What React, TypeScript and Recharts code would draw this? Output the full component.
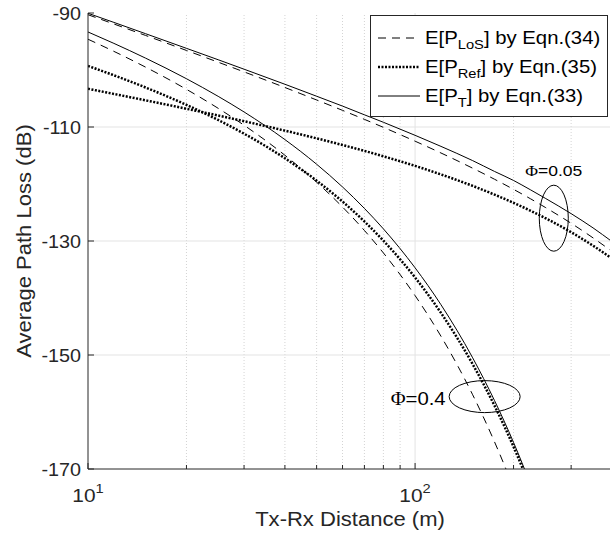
import React from 'react';
import { LineChart, Line, XAxis, YAxis, ReferenceLine, ReferenceDot, Legend } from 'recharts';

// Tx-Rx distance (m) and average path loss (dB)
const distances = [10, 12, 15, 20, 25, 30, 40, 50, 60, 70, 80, 100, 120, 150, 175, 200, 225, 250, 300, 350, 400];

// Phi = 0.05
const los005 = [-90.3, -91.93, -93.94, -96.57, -98.63, -100.33, -103.07, -105.26, -107.08, -108.66, -110.06, -112.49, -114.56, -117.23, -119.17, -120.94, -122.57, -124.1, -126.89, -129.45, -131.82];
const ref005 = [-103.29, -104.2, -105.32, -106.8, -107.99, -108.99, -110.64, -111.99, -113.16, -114.19, -115.14, -116.82, -118.32, -120.33, -121.87, -123.3, -124.67, -125.97, -128.46, -130.82, -133.08];
const tot005 = [-90.05, -91.65, -93.63, -96.2, -98.2, -99.86, -102.5, -104.6, -106.33, -107.86, -109.17, -111.46, -113.4, -115.9, -117.8, -119.38, -121.0, -122.5, -125.2, -127.7, -130.1];

// Phi = 0.4
const los04 = [-94.6, -96.73, -99.5, -103.39, -106.72, -109.69, -114.96, -119.68, -124.04, -128.15, -132.09, -139.58, -146.71, -156.98, -165.26, -173.36, -181.32, null, null, null, null];
const ref04 = [-99.29, -100.93, -103.07, -106.12, -108.77, -111.17, -115.49, -119.41, -123.08, -126.57, -129.94, -136.4, -142.61, -151.61, -158.91, -166.09, -173.17, null, null, null, null];
const tot04 = [-93.33, -95.33, -97.92, -101.53, -104.62, -107.36, -112.21, -116.53, -120.52, -124.28, -127.87, -134.7, -141.18, -150.5, -158.01, -165.34, -172.55, null, null, null, null];

const xTicks = [10, 20, 30, 40, 50, 60, 70, 80, 90, 100, 200, 300, 400];
const xMajor = [10, 100];
const xMinor = [20, 30, 40, 50, 60, 70, 80, 90, 200, 300];
const yTicks = [-170, -150, -130, -110, -90];

const legendItems = [
  { sub: 'LoS', eqn: '(34)', dash: '8 6', width: 1 },
  { sub: 'Ref', eqn: '(35)', dash: '2 1.5', width: 2.5 },
  { sub: 'T', eqn: '(33)', dash: undefined, width: 1 },
];

const data = distances.map((d, i) => ({
  d,
  los005: los005[i],
  ref005: ref005[i],
  tot005: tot005[i],
  los04: los04[i],
  ref04: ref04[i],
  tot04: tot04[i],
}));

const AXIS = '#262626';
const FONT = '"Liberation Sans", Arial, sans-serif';
const SX = 1.13;

const BottomTick = (props: any) => {
  const { x, y, payload } = props;
  const v = payload.value;
  const major = xMajor.includes(v);
  return (
    <g>
      <line x1={x} x2={x} y1={y} y2={y - (major ? 6 : 4)} stroke={AXIS} />
      {major && (
        <text transform={`translate(${x},${y + 33}) scale(${SX},1)`} textAnchor="middle" fontSize={18.5} fontFamily={FONT} fill={AXIS}>
          10<tspan dy={-9} fontSize={13}>{Math.round(Math.log10(v))}</tspan>
        </text>
      )}
    </g>
  );
};

const TopTick = (props: any) => {
  const { x, y, payload } = props;
  const major = xMajor.includes(payload.value);
  return <line x1={x} x2={x} y1={y} y2={y + (major ? 6 : 4)} stroke={AXIS} />;
};

const LeftTick = (props: any) => {
  const { x, y, payload } = props;
  return (
    <g>
      <line x1={x} x2={x + 6} y1={y} y2={y} stroke={AXIS} />
      <text transform={`translate(${x - 7},${y + 6.5}) scale(${SX},1)`} textAnchor="end" fontSize={17.5} fontFamily={FONT} fill={AXIS}>
        {payload.value}
      </text>
    </g>
  );
};

const RightTick = (props: any) => {
  const { x, y } = props;
  return <line x1={x} x2={x - 6} y1={y} y2={y} stroke={AXIS} />;
};

const XTitle = (props: any) => {
  const { x, y, width } = props.viewBox;
  return (
    <text transform={`translate(${x + width / 2},${y + 57}) scale(${SX},1)`} textAnchor="middle" fontSize={19.5} fontFamily={FONT} fill={AXIS}>
      Tx-Rx Distance (m)
    </text>
  );
};

const YTitle = (props: any) => {
  const { y, height } = props.viewBox;
  return (
    <text transform={`translate(31,${y + height / 2}) rotate(-90) scale(${SX},1)`} textAnchor="middle" fontSize={19.5} fontFamily={FONT} fill={AXIS}>
      Average Path Loss (dB)
    </text>
  );
};

const renderLegend = () => (
  <svg width={238} height={102} style={{ display: 'block' }}>
    <rect x={0.5} y={0.5} width={237} height={101} fill="#fff" stroke={AXIS} />
    {legendItems.map((it, i) => {
      const cy = 23 + i * 29;
      return (
        <g key={it.sub}>
          <line x1={8} x2={50} y1={cy} y2={cy} stroke="#000" strokeWidth={it.width} strokeDasharray={it.dash} />
          <text transform={`translate(55,${cy + 6}) scale(${SX},1)`} fontSize={18} fontFamily={FONT} fill="#000">
            E[P<tspan dy={5} fontSize={13}>{it.sub}</tspan>
            <tspan dy={-5}>] by Eqn.{it.eqn}</tspan>
          </text>
        </g>
      );
    })}
  </svg>
);

const EllipseNote = (rx: number, ry: number, label: string, size: number, dx: number, dy: number, anchor: string) => (p: any) => (
  <g>
    <ellipse cx={p.cx} cy={p.cy} rx={rx} ry={ry} fill="none" stroke="#000" strokeWidth={1} />
    <text transform={`translate(${p.cx + dx},${p.cy + dy}) scale(${SX},1)`} textAnchor={anchor} fontSize={size} fontFamily={FONT} fill="#000">
      <tspan fontFamily='"Liberation Serif", "Times New Roman", serif'>Φ</tspan>
      {label}
    </text>
  </g>
);

const App: React.FC = () => {
  return (
    <div style={{ width: 610, height: 533, overflow: 'hidden', position: 'relative', background: '#fff' }}>
      <style>{'body{margin:0;overflow:hidden;}'}</style>
      <LineChart width={614} height={533} data={data} margin={{ top: 13, right: 2, bottom: 0, left: 0 }}>
        <XAxis
          xAxisId="b"
          dataKey="d"
          type="number"
          scale="log"
          domain={[10, 400]}
          ticks={xTicks}
          interval={0}
          allowDataOverflow
          height={64}
          tickSize={0}
          tickMargin={0}
          tickLine={false}
          tick={<BottomTick />}
          axisLine={{ stroke: AXIS }}
          label={<XTitle />}
        />
        <XAxis
          xAxisId="t"
          orientation="top"
          dataKey="d"
          type="number"
          scale="log"
          domain={[10, 400]}
          ticks={xTicks}
          interval={0}
          allowDataOverflow
          height={0}
          tickSize={0}
          tickMargin={0}
          tickLine={false}
          tick={<TopTick />}
          axisLine={{ stroke: AXIS }}
        />
        <YAxis
          yAxisId="l"
          type="number"
          domain={[-170, -90]}
          ticks={yTicks}
          interval={0}
          allowDataOverflow
          width={88}
          tickSize={0}
          tickMargin={0}
          tickLine={false}
          tick={<LeftTick />}
          axisLine={{ stroke: AXIS }}
          label={<YTitle />}
        />
        <YAxis
          yAxisId="r"
          orientation="right"
          type="number"
          domain={[-170, -90]}
          ticks={yTicks}
          interval={0}
          allowDataOverflow
          width={0}
          tickSize={0}
          tickMargin={0}
          tickLine={false}
          tick={<RightTick />}
          axisLine={{ stroke: AXIS }}
        />

        {xMinor.map((v) => (
          <ReferenceLine key={`vx${v}`} xAxisId="b" yAxisId="l" x={v} stroke="#d4d4d4" strokeDasharray="1 2" />
        ))}
        <ReferenceLine xAxisId="b" yAxisId="l" x={100} stroke="#e3e3e3" />
        {[-150, -130, -110].map((v) => (
          <ReferenceLine key={`hy${v}`} xAxisId="b" yAxisId="l" y={v} stroke="#e3e3e3" />
        ))}

        <Line xAxisId="b" yAxisId="l" type="monotone" dataKey="los005" stroke="#000" strokeWidth={1} strokeDasharray="8 6" dot={false} activeDot={false} isAnimationActive={false} />
        <Line xAxisId="b" yAxisId="l" type="monotone" dataKey="ref005" stroke="#000" strokeWidth={2.5} strokeDasharray="2 1.5" dot={false} activeDot={false} isAnimationActive={false} />
        <Line xAxisId="b" yAxisId="l" type="monotone" dataKey="tot005" stroke="#000" strokeWidth={1} dot={false} activeDot={false} isAnimationActive={false} />
        <Line xAxisId="b" yAxisId="l" type="monotone" dataKey="los04" stroke="#000" strokeWidth={1} strokeDasharray="8 6" dot={false} activeDot={false} isAnimationActive={false} />
        <Line xAxisId="b" yAxisId="l" type="monotone" dataKey="ref04" stroke="#000" strokeWidth={2.5} strokeDasharray="2 1.5" dot={false} activeDot={false} isAnimationActive={false} />
        <Line xAxisId="b" yAxisId="l" type="monotone" dataKey="tot04" stroke="#000" strokeWidth={1} dot={false} activeDot={false} isAnimationActive={false} />

        <ReferenceDot xAxisId="b" yAxisId="l" x={265.5} y={-126} r={0} shape={EllipseNote(14.5, 33, '=0.05', 15.5, 0, -42, 'middle')} />
        <ReferenceDot xAxisId="b" yAxisId="l" x={163.2} y={-157.3} r={0} shape={EllipseNote(35.5, 16, '=0.4', 18, -39, 8, 'end')} />

        <Legend
          layout="vertical"
          align="center"
          verticalAlign="middle"
          content={renderLegend}
          wrapperStyle={{ left: 370, top: 15, width: 238, height: 102 }}
        />
      </LineChart>
    </div>
  );
};

export default App;
